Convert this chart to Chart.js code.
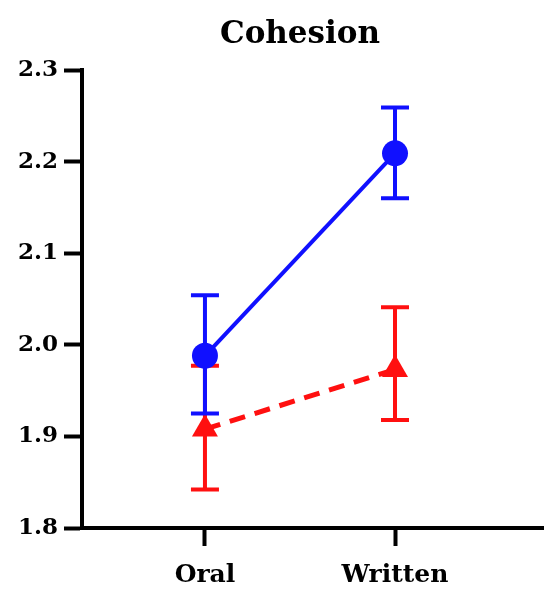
<!DOCTYPE html>
<html>
<head>
<meta charset="utf-8">
<script src="https://cdn.jsdelivr.net/npm/chart.js@4/dist/chart.umd.min.js"></script>
<style>
  html, body { margin: 0; padding: 0; background: #ffffff; }
  #wrap { width: 544px; height: 592px; position: relative; }
</style>
</head>
<body>
<div id="wrap"><canvas id="c" width="544" height="592"></canvas></div>
<script>
const chartTitle = 'Cohesion';
const categories = ['Oral', 'Written'];
const yTicks = [1.8, 1.9, 2.0, 2.1, 2.2, 2.3];

const blueMean = [1.988, 2.209];
const blueLow  = [1.925, 2.160];
const blueHigh = [2.054, 2.259];

const redMean = [1.908, 1.973];
const redLow  = [1.842, 1.918];
const redHigh = [1.977, 2.041];

const BLUE = '#1010ff';
const RED = '#ff1010';
const FONT = "'DejaVu Serif', 'Liberation Serif', serif";

const errorBars = {
  id: 'errorBars',
  beforeDatasetDraw(chart, args) {
    const ds = chart.data.datasets[args.index];
    if (!ds.errLow) return;
    const xs = chart.scales.x, ys = chart.scales.y;
    const ctx = chart.ctx;
    ctx.save();
    ctx.strokeStyle = ds.borderColor;
    ctx.lineWidth = 4;
    ctx.setLineDash([]);
    ctx.lineCap = 'butt';
    ds.data.forEach((p, i) => {
      const x = xs.getPixelForValue(p.x);
      const yl = ys.getPixelForValue(ds.errLow[i]);
      const yh = ys.getPixelForValue(ds.errHigh[i]);
      ctx.beginPath();
      ctx.moveTo(x, yl); ctx.lineTo(x, yh);
      ctx.moveTo(x - 14, yl); ctx.lineTo(x + 14, yl);
      ctx.moveTo(x - 14, yh); ctx.lineTo(x + 14, yh);
      ctx.stroke();
    });
    ctx.restore();
  }
};

const titlePlugin = {
  id: 'customTitle',
  afterDraw(chart) {
    const ctx = chart.ctx;
    ctx.save();
    ctx.fillStyle = '#000';
    ctx.font = "bold 31px " + FONT;
    ctx.textAlign = 'center';
    ctx.textBaseline = 'middle';
    ctx.fillText(chartTitle, 300, 35);
    ctx.restore();
  }
};

new Chart(document.getElementById('c'), {
  type: 'line',
  data: {
    datasets: [
      {
        label: 'Blue',
        data: blueMean.map((v, i) => ({ x: i, y: v })),
        errLow: blueLow, errHigh: blueHigh,
        borderColor: BLUE, backgroundColor: BLUE,
        borderWidth: 4,
        pointStyle: 'circle', pointRadius: 13, pointHoverRadius: 13,
        pointBorderWidth: 0,
        fill: false, tension: 0
      },
      {
        label: 'Red',
        data: redMean.map((v, i) => ({ x: i, y: v })),
        errLow: redLow, errHigh: redHigh,
        borderColor: RED, backgroundColor: RED,
        borderWidth: 5, borderDash: [16, 10],
        pointStyle: 'triangle', pointRadius: 15, pointHoverRadius: 15,
        pointBorderWidth: 0,
        fill: false, tension: 0
      }
    ]
  },
  options: {
    responsive: false,
    animation: false,
    events: [],
    layout: { autoPadding: false, padding: { top: 70, left: 0, right: 0, bottom: 0 } },
    plugins: { legend: { display: false }, tooltip: { enabled: false }, title: { display: false } },
    scales: {
      x: {
        type: 'linear',
        min: -0.647, max: 1.784,
        afterBuildTicks(scale) { scale.ticks = categories.map((c, i) => ({ value: i })); },
        afterFit(scale) { scale.height = 64; scale.paddingLeft = 0; scale.paddingRight = 0; },
        ticks: {
          callback: (v) => categories[v] ?? '',
          color: '#000',
          font: { family: FONT, size: 25, weight: 'bold' },
          padding: 14,
          maxRotation: 0
        },
        grid: { drawOnChartArea: false, drawTicks: true, tickLength: 18, tickWidth: 4, tickColor: '#000' },
        border: { display: true, width: 4, color: '#000' }
      },
      y: {
        type: 'linear',
        min: 1.8, max: 2.3,
        afterBuildTicks(scale) { scale.ticks = yTicks.map(v => ({ value: v })); },
        afterFit(scale) { scale.width = 82; },
        ticks: {
          callback: (v) => v.toFixed(1),
          color: '#000',
          font: { family: FONT, size: 23, weight: 'bold' },
          padding: 6
        },
        grid: { drawOnChartArea: false, drawTicks: true, tickLength: 18, tickWidth: 4, tickColor: '#000' },
        border: { display: true, width: 4, color: '#000' }
      }
    }
  },
  plugins: [errorBars, titlePlugin]
});
</script>
</body>
</html>
